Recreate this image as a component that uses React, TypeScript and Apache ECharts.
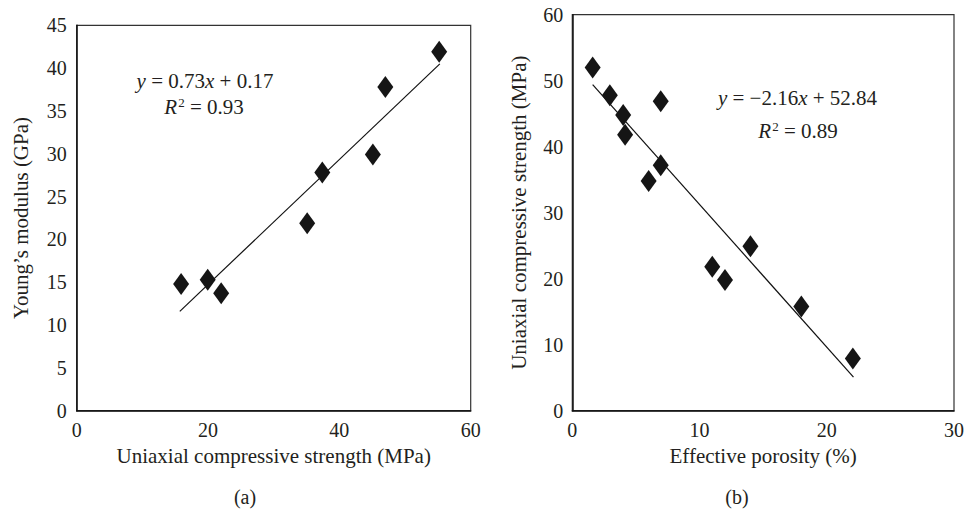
import React, { useEffect, useRef } from "react";
import * as echarts from "echarts";

// Panel (a): UCS (MPa) vs Young's modulus (GPa)
const ucsA = [15.9, 19.95, 22.0, 35.1, 37.4, 45.1, 47.0, 55.2];
const youngA = [14.8, 15.3, 13.7, 21.9, 27.8, 29.9, 37.8, 41.9];
const trendAx = [15.7, 55.3];
const trendAy = [11.6, 40.5];

// Panel (b): Effective porosity (%) vs UCS (MPa)
const porB = [1.6, 2.95, 4.0, 4.15, 6.0, 6.95, 6.95, 11.0, 12.0, 14.0, 18.0, 22.05];
const ucsB = [52.0, 47.8, 44.8, 41.8, 34.8, 46.9, 37.2, 21.8, 19.8, 24.9, 15.8, 7.9];
const trendBx = [1.6, 22.1];
const trendBy = [49.4, 5.1];

const xTicksA = [0, 20, 40, 60];
const yTicksA = [0, 5, 10, 15, 20, 25, 30, 35, 40, 45];
const xTicksB = [0, 10, 20, 30];
const yTicksB = [0, 10, 20, 30, 40, 50, 60];

const FONT = "'Liberation Serif', 'DejaVu Serif', serif";
const INK = "#231f20";

export default function App() {
  const ref = useRef<HTMLDivElement>(null);
  useEffect(() => {
    if (!ref.current) return;
    const chart = echarts.init(ref.current, undefined, { renderer: "svg" });
    const axisCommon = {
      axisLine: { show: true, onZero: false, lineStyle: { color: "#111", width: 1.5 } },
      axisTick: { show: false },
      splitLine: { show: false },
      nameLocation: "middle" as const,
      nameTextStyle: { fontFamily: FONT, fontSize: 21, color: INK },
    };
    const labelCommon = { fontFamily: FONT, fontSize: 20, color: INK };
    const eqStyle = (text: string, x: number, y: number) => ({
      type: "text",
      x,
      y,
      style: {
        text,
        fill: INK,
        font: `21px ${FONT}`,
        textAlign: "center",
        textVerticalAlign: "middle",
        rich: {
          i: { fontFamily: FONT, fontSize: 21, fontStyle: "italic", fill: INK, color: INK },
          n: { fontFamily: FONT, fontSize: 21, fill: INK, color: INK },
          sup: { fontFamily: FONT, fontSize: 13, fill: INK, color: INK, verticalAlign: "top", padding: [0, 0, 9, 1] },
        },
      },
    });
    chart.setOption({
      animation: false,
      backgroundColor: "#ffffff",
      grid: [
        { left: 76.7, top: 25.3, width: 394, height: 385.4, show: true, borderColor: "#333", borderWidth: 1.2, backgroundColor: "transparent" },
        { left: 572.3, top: 14.7, width: 383.4, height: 396, show: true, borderColor: "#333", borderWidth: 1.2, backgroundColor: "transparent" },
      ],
      xAxis: [
        {
          ...axisCommon,
          gridIndex: 0,
          type: "value",
          min: xTicksA[0],
          max: xTicksA[xTicksA.length - 1],
          interval: xTicksA[1] - xTicksA[0],
          name: "Uniaxial compressive strength (MPa)",
          nameGap: 35,
          axisLabel: { ...labelCommon, margin: 9 },
        },
        {
          ...axisCommon,
          gridIndex: 1,
          type: "value",
          min: xTicksB[0],
          max: xTicksB[xTicksB.length - 1],
          interval: xTicksB[1] - xTicksB[0],
          name: "Effective porosity (%)",
          nameGap: 35,
          axisLabel: { ...labelCommon, margin: 9 },
        },
      ],
      yAxis: [
        {
          ...axisCommon,
          gridIndex: 0,
          type: "value",
          min: yTicksA[0],
          max: yTicksA[yTicksA.length - 1],
          interval: yTicksA[1] - yTicksA[0],
          name: "Young’s modulus (GPa)",
          nameGap: 45,
          axisLabel: { ...labelCommon, margin: 10 },
        },
        {
          ...axisCommon,
          gridIndex: 1,
          type: "value",
          min: yTicksB[0],
          max: yTicksB[yTicksB.length - 1],
          interval: yTicksB[1] - yTicksB[0],
          name: "Uniaxial compressive strength (MPa)",
          nameGap: 43,
          axisLabel: { ...labelCommon, margin: 9 },
        },
      ],
      series: [
        {
          type: "scatter",
          xAxisIndex: 0,
          yAxisIndex: 0,
          symbol: "diamond",
          symbolSize: [16, 22],
          itemStyle: { color: "#151515", opacity: 1 },
          data: ucsA.map((x, i) => [x, youngA[i]]),
          z: 3,
        },
        {
          type: "line",
          xAxisIndex: 0,
          yAxisIndex: 0,
          showSymbol: false,
          symbol: "none",
          lineStyle: { color: "#111", width: 1.2 },
          data: trendAx.map((x, i) => [x, trendAy[i]]),
          z: 2,
        },
        {
          type: "scatter",
          xAxisIndex: 1,
          yAxisIndex: 1,
          symbol: "diamond",
          symbolSize: [16, 22],
          itemStyle: { color: "#151515", opacity: 1 },
          data: porB.map((x, i) => [x, ucsB[i]]),
          z: 3,
        },
        {
          type: "line",
          xAxisIndex: 1,
          yAxisIndex: 1,
          showSymbol: false,
          symbol: "none",
          lineStyle: { color: "#111", width: 1.2 },
          data: trendBx.map((x, i) => [x, trendBy[i]]),
          z: 2,
        },
      ],
      graphic: [
        eqStyle("{i|y}{n| = 0.73}{i|x}{n| + 0.17}", 205, 81),
        eqStyle("{i|R}{sup|2}{n| = 0.93}", 204, 107),
        eqStyle("{i|y}{n| = −2.16}{i|x}{n| + 52.84}", 797.5, 98),
        eqStyle("{i|R}{sup|2}{n| = 0.89}", 798, 131),
        {
          type: "text",
          x: 245,
          y: 497,
          style: { text: "(a)", fill: INK, font: `20px ${FONT}`, textAlign: "center", textVerticalAlign: "middle" },
        },
        {
          type: "text",
          x: 737,
          y: 497,
          style: { text: "(b)", fill: INK, font: `20px ${FONT}`, textAlign: "center", textVerticalAlign: "middle" },
        },
      ],
    });
    return () => chart.dispose();
  }, []);
  return (
    <div
      ref={ref}
      style={{ position: "fixed", left: 0, top: 0, width: 967, height: 511, background: "#fff" }}
    />
  );
}
